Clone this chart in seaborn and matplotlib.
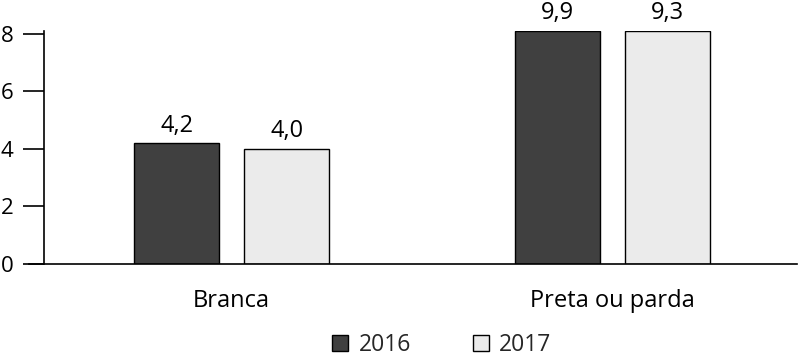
import matplotlib
matplotlib.use("Agg")
import matplotlib.pyplot as plt
import seaborn as sns
import pandas as pd
from matplotlib.patches import Patch

categories = ["Branca", "Preta ou parda"]
years = ["2016", "2017"]
values_2016 = [4.2, 9.9]
values_2017 = [4.0, 9.3]
yticks = [0, 2, 4, 6, 8]

df = pd.DataFrame({
    "cat": categories * 2,
    "year": [years[0]] * 2 + [years[1]] * 2,
    "val": values_2016 + values_2017,
})

sns.set_theme(style="white")
plt.rcParams["font.family"] = ["Open Sans", "DejaVu Sans"]

colors = {"2016": "#404040", "2017": "#ebebeb"}
fig = plt.figure(figsize=(8, 3.6), dpi=100)
ax = fig.add_axes([44 / 800, 1 - 264 / 360, 753 / 800, (264 - 31) / 360])

sns.barplot(data=df, x="cat", y="val", hue="year", palette=colors, width=0.578,
            gap=0.227, edgecolor="black", linewidth=1.0, ax=ax, legend=False)

ytop = 8.1
ax.set_ylim(0, ytop)
ax.set_xlim(-0.493, 1.486)
ax.set_yticks(yticks)
ax.set_yticklabels([str(t) for t in yticks])
ax.set_xlabel("")
ax.set_ylabel("")

for sp in ["top", "right"]:
    ax.spines[sp].set_visible(False)
ax.spines["left"].set_color("black")
ax.spines["left"].set_linewidth(1.2)
ax.spines["bottom"].set_color("black")
ax.spines["bottom"].set_linewidth(1.2)
ax.spines["bottom"].set_bounds(-0.493 - 15 / 380.5, 1.486)
ax.spines["bottom"].set_clip_on(False)

ax.tick_params(axis="y", left=True, length=15, width=1.2, color="black",
               labelsize=16, pad=7, labelcolor="black")
ax.tick_params(axis="x", bottom=False, labelsize=17, pad=12, labelcolor="black")

for cont in ax.containers:
    for bar in cont:
        h = bar.get_height()
        shown = min(h, ytop)
        bar.set_height(shown)
        x = bar.get_x() + bar.get_width() / 2
        ax.annotate(f"{h:.1f}".replace(".", ","), (x, shown),
                    xytext=(0, 4), textcoords="offset points", ha="center",
                    va="bottom", fontsize=17, color="black", annotation_clip=False)

handles = [Patch(facecolor=colors[y], edgecolor="black", linewidth=1.0, label=y) for y in years]
fig.legend(handles=handles, loc="center", bbox_to_anchor=(442 / 800, 1 - 345 / 360), ncol=2,
           frameon=False, fontsize=16.5, handlelength=0.7, handleheight=0.7,
           columnspacing=2.7, handletextpad=0.45, borderaxespad=0, borderpad=0)

fig.savefig("out.png", dpi=100)
